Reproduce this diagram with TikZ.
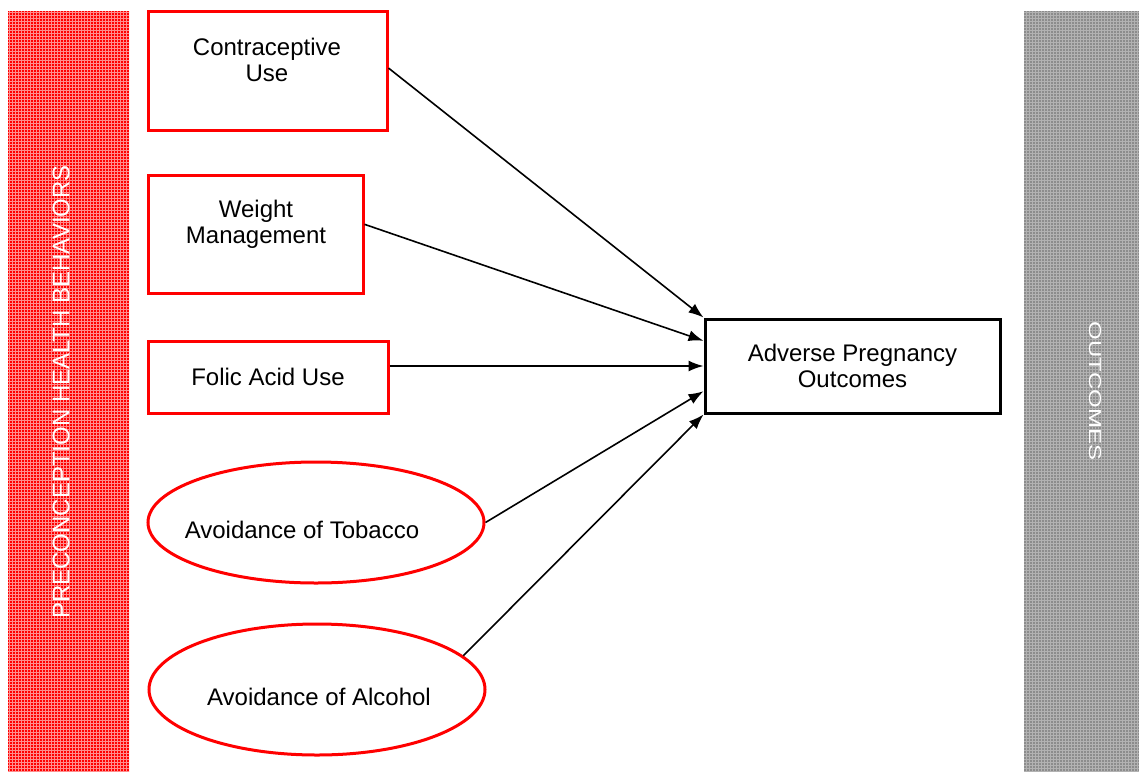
\documentclass[tikz,border=0pt]{standalone}
\usepackage{fontspec}
\setmainfont{Liberation Sans}
\usetikzlibrary{arrows.meta,shapes.geometric,patterns,calc}
\begin{document}
\begin{tikzpicture}[x=1pt,y=-1pt,
  every node/.style={font=\fontsize{24}{26}\selectfont},
  behavior/.style={draw=red,line width=3pt,fill=white,inner sep=0pt},
  outcomebox/.style={draw=black,line width=3pt,fill=white,inner sep=0pt},
  link/.style={line width=1.6pt,-{Latex[length=15pt,width=11pt]}},
  bandtext/.style={text=white,inner sep=0pt}
]
\useasboundingbox (0,0) rectangle (1139,771);
% side bands
\fill[red] (8,11) rectangle (129,771);
\fill[pattern=grid,pattern color=red!45!white] (8,11) rectangle (129,771);
\fill[black!45] (1024,11) rectangle (1139,771);
\fill[pattern=grid,pattern color=black!30] (1024,11) rectangle (1139,771);
\node[bandtext,rotate=90] (pre) at (61,392) {PRECONCEPTION HEALTH BEHAVIORS};
\node[bandtext,rotate=-90] (out) at (1095,391) {\scalebox{1}[0.72]{OUTCOMES}};
% behaviour boxes
\node[behavior,rectangle,minimum width=239pt,minimum height=119pt] (cu) at (267.5,70.5) {};
\node[align=center] at (267,60) {Contraceptive\\Use};
\node[behavior,rectangle,minimum width=215pt,minimum height=118pt] (wm) at (255.5,234) {};
\node[align=center] at (256,224) {Weight\\Management};
\node[behavior,rectangle,minimum width=240pt,minimum height=72pt] (fa) at (268,377) {};
\node at (268,377) {Folic Acid Use};
\node[behavior,ellipse,minimum width=336pt,minimum height=121pt] (tb) at (316,522.5) {};
\node at (302,530) {Avoidance of Tobacco};
\node[behavior,ellipse,minimum width=336pt,minimum height=131pt] (al) at (317,689.5) {};
\node at (319,697) {Avoidance of Alcohol};
% outcome box
\node[outcomebox,rectangle,minimum width=295pt,minimum height=94pt,align=center] (ad) at (852.5,366) {Adverse Pregnancy\\Outcomes};
% connectors
\coordinate (cuout) at ($(cu.north east)!0.48!(cu.south east)$);
\coordinate (wmout) at ($(wm.north east)!0.42!(wm.south east)$);
\coordinate (adin) at ($(ad.north west)!0.5!(ad.south west)$);
\coordinate (faout) at (fa.east |- adin);
\draw[link] (cuout) -- (ad.north west);
\draw[link] (wmout) -- ($(ad.north west)!0.24!(ad.south west)$);
\draw[link] (faout) -- (adin);
\draw[link] (tb.east) -- ($(ad.north west)!0.76!(ad.south west)$);
\draw[link] (al.13) -- (ad.south west);
\end{tikzpicture}
\end{document}
